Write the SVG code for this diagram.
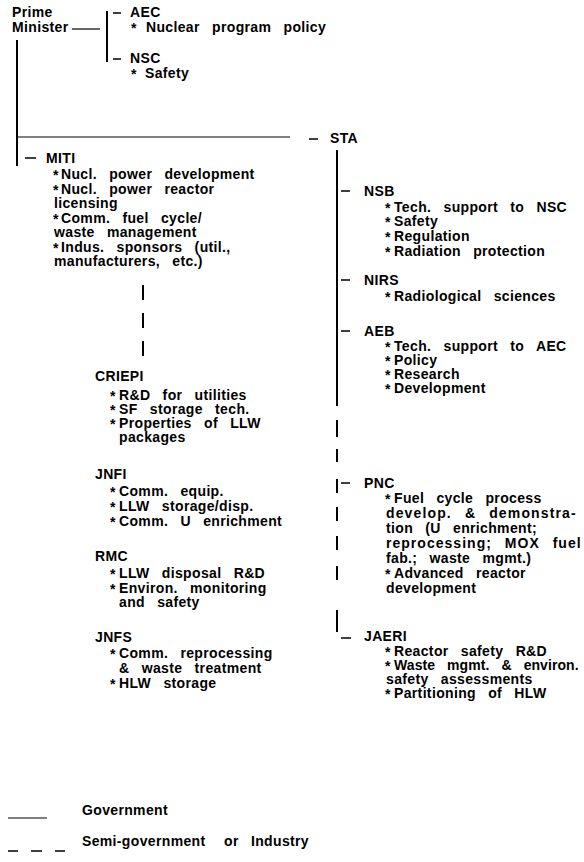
<svg xmlns="http://www.w3.org/2000/svg" width="584" height="862" viewBox="0 0 584 862">
<style>
text{font-family:"Liberation Sans",Arial,sans-serif;font-weight:bold;font-size:14px;letter-spacing:0.35px;word-spacing:8px;fill:#000}
.ln{stroke:#000;stroke-width:1.2;fill:none}
.v{stroke:#000;stroke-width:2;fill:none}
.d{stroke:#000;stroke-width:1.5;fill:none}
</style>
<rect width="584" height="862" fill="#fff"/>
<g id="connectors">
<path class="ln" d="M72 29H100"/>
<path class="v" d="M107 11V62"/>
<path class="d" d="M113 13H121M113 59H121"/>
<path class="v" d="M17 40V166"/>
<path class="ln" d="M17 137H290"/>
<path class="d" d="M309 139H318"/>
<path class="d" d="M25 158H36"/>
<path class="v" d="M143 285V300M143 313V328M143 341V356"/>
<path class="v" d="M337 150V406"/>
<path class="d" d="M341 191H350M341 280H350M341 331H350"/>
<path class="v" d="M337 420V437M337 449V462M337 479V493M337 507V521M337 536V550M337 566V580M337 610V632"/>
<path class="d" d="M341 483H350M341 638H351"/>
</g>
<g id="prime-minister"><text x="12" y="17">Prime</text><text x="12" y="32">Minister</text></g>
<g id="aec"><text x="130" y="17">AEC</text><text x="131" y="33">*</text><text x="146" y="32">Nuclear program policy</text></g>
<g id="nsc"><text x="130" y="63">NSC</text><text x="131" y="79">*</text><text x="145" y="78">Safety</text></g>
<g id="sta"><text x="330" y="143">STA</text></g>
<g id="miti">
<text x="46" y="163">MITI</text>
<text x="53" y="180">*</text><text x="61" y="179">Nucl. power development</text>
<text x="53" y="194.5">*</text><text x="61" y="193.5">Nucl. power reactor</text>
<text x="54" y="208">licensing</text>
<text x="53" y="223.5">*</text><text x="61" y="222.5">Comm. fuel cycle/</text>
<text x="54" y="237">waste management</text>
<text x="53" y="252.5">*</text><text x="61" y="251.5">Indus. sponsors (util.,</text>
<text x="54" y="266">manufacturers, etc.)</text>
</g>
<g id="criepi">
<text x="95" y="381">CRIEPI</text>
<text x="110" y="401">*</text><text x="119" y="400">R&amp;D for utilities</text>
<text x="110" y="415">*</text><text x="119" y="414">SF storage tech.</text>
<text x="110" y="429">*</text><text x="119" y="428">Properties of LLW</text>
<text x="119" y="442">packages</text>
</g>
<g id="jnfi">
<text x="95" y="479">JNFI</text>
<text x="110" y="497">*</text><text x="119" y="496">Comm. equip.</text>
<text x="110" y="512">*</text><text x="119" y="511">LLW storage/disp.</text>
<text x="110" y="527">*</text><text x="119" y="526">Comm. U enrichment</text>
</g>
<g id="rmc">
<text x="95" y="561">RMC</text>
<text x="110" y="579">*</text><text x="119" y="578">LLW disposal R&amp;D</text>
<text x="110" y="594">*</text><text x="119" y="593">Environ. monitoring</text>
<text x="119" y="607">and safety</text>
</g>
<g id="jnfs">
<text x="95" y="642">JNFS</text>
<text x="110" y="659">*</text><text x="119" y="658">Comm. reprocessing</text>
<text x="119" y="673">&amp; waste treatment</text>
<text x="110" y="689">*</text><text x="119" y="688">HLW storage</text>
</g>
<g id="nsb">
<text x="364" y="196">NSB</text>
<text x="385" y="213">*</text><text x="394" y="212">Tech. support to NSC</text>
<text x="385" y="227">*</text><text x="394" y="226">Safety</text>
<text x="385" y="242">*</text><text x="394" y="241">Regulation</text>
<text x="385" y="257">*</text><text x="394" y="256">Radiation protection</text>
</g>
<g id="nirs">
<text x="364" y="285">NIRS</text>
<text x="385" y="302">*</text><text x="394" y="301">Radiological sciences</text>
</g>
<g id="aeb">
<text x="364" y="336">AEB</text>
<text x="385" y="352">*</text><text x="394" y="351">Tech. support to AEC</text>
<text x="385" y="366">*</text><text x="394" y="365">Policy</text>
<text x="385" y="380">*</text><text x="394" y="379">Research</text>
<text x="385" y="394">*</text><text x="394" y="393">Development</text>
</g>
<g id="pnc">
<text x="364" y="488">PNC</text>
<text x="385" y="504">*</text><text x="394" y="503">Fuel cycle process</text>
<text x="386" y="518" textLength="190" lengthAdjust="spacing">develop. &amp; demonstra-</text>
<text x="386" y="533">tion (U enrichment;</text>
<text x="386" y="548" textLength="195" lengthAdjust="spacing">reprocessing; MOX fuel</text>
<text x="386" y="563">fab.; waste mgmt.)</text>
<text x="385" y="579">*</text><text x="394" y="578">Advanced reactor</text>
<text x="386" y="593">development</text>
</g>
<g id="jaeri">
<text x="364" y="641">JAERI</text>
<text x="385" y="657">*</text><text x="394" y="656">Reactor safety R&amp;D</text>
<text x="385" y="671">*</text><text x="394" y="670" textLength="185" lengthAdjust="spacing">Waste mgmt. &amp; environ.</text>
<text x="386" y="684">safety assessments</text>
<text x="385" y="699">*</text><text x="394" y="698">Partitioning of HLW</text>
</g>
<g id="legend">
<path class="ln" d="M8 818H47"/>
<text x="82" y="815">Government</text>
<path class="d" d="M8 851H18M31 851H42M55 851H65"/>
<text x="82" y="846">Semi-government</text>
<text x="224" y="846">or Industry</text>
</g>
</svg>
